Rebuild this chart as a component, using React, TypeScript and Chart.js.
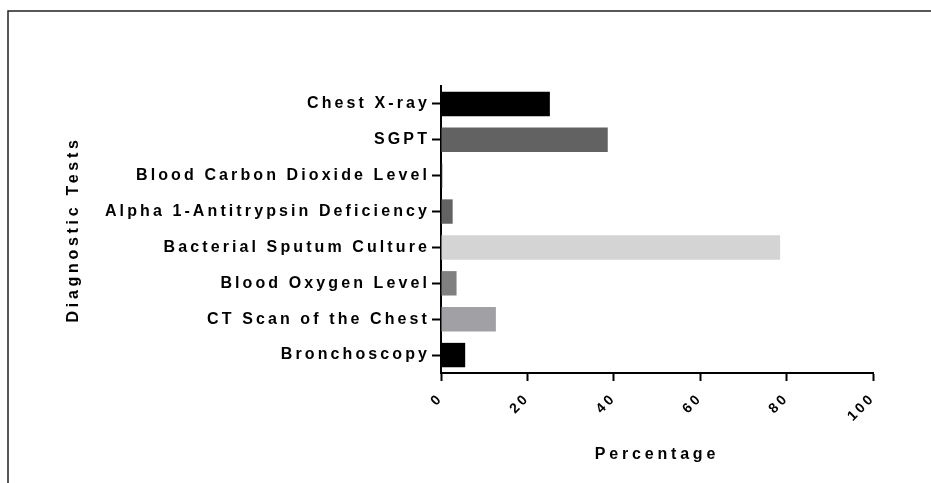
import React, { useEffect, useRef } from "react";
import { Chart, registerables } from "chart.js";
Chart.register(...registerables);

const categories = [
  "Chest X-ray",
  "SGPT",
  "Blood Carbon Dioxide Level",
  "Alpha 1-Antitrypsin Deficiency",
  "Bacterial Sputum Culture",
  "Blood Oxygen Level",
  "CT Scan of the Chest",
  "Bronchoscopy",
];
const percentages = [25.2, 38.6, 0.3, 2.7, 78.5, 3.6, 12.7, 5.6];
const barColors = ["#000000", "#626262", "#3a3a3a", "#636363", "#d4d4d4", "#808080", "#a1a1a5", "#000000"];
const xMin = 0;
const xMax = 100;
const xStep = 20;
const xTitle = "Percentage";
const yTitle = "Diagnostic Tests";

const FONT = "'Liberation Sans', Arial, Helvetica, sans-serif";

function patchSpacing(scale: any, fnName: string, spacing: string) {
  if (!scale || scale["__patched_" + fnName]) return;
  const orig = scale[fnName];
  scale[fnName] = function (...args: any[]) {
    const ctx = this.ctx;
    const prev = ctx.letterSpacing;
    ctx.letterSpacing = spacing;
    const r = orig.apply(this, args);
    ctx.letterSpacing = prev;
    return r;
  };
  scale["__patched_" + fnName] = true;
}

const framePlugin = {
  id: "spacingFrame",
  afterLayout(chart: any) {
    patchSpacing(chart.scales.y, "drawLabels", "3.1px");
    patchSpacing(chart.scales.x, "drawLabels", "3px");
    patchSpacing(chart.scales.y, "drawTitle", "3.7px");
    patchSpacing(chart.scales.x, "drawTitle", "3.8px");
  },
  beforeDraw(chart: any) {
    const ctx = chart.ctx;
    ctx.save();
    ctx.strokeStyle = "#222";
    ctx.lineWidth = 1.5;
    ctx.beginPath();
    ctx.moveTo(8, 483);
    ctx.lineTo(8, 11);
    ctx.lineTo(931, 11);
    ctx.stroke();
    ctx.restore();
  },
};

export default function App() {
  const ref = useRef<HTMLCanvasElement | null>(null);
  useEffect(() => {
    if (!ref.current) return;
    const chart = new Chart(ref.current, {
      type: "bar",
      data: {
        labels: categories,
        datasets: [
          {
            data: percentages,
            backgroundColor: barColors,
            borderWidth: 0,
            barPercentage: 0.68,
            categoryPercentage: 1,
          },
        ],
      },
      options: {
        indexAxis: "y",
        animation: false,
        responsive: false,
        layout: { padding: { left: 55, top: 86, right: 58, bottom: 0 } },
        plugins: { legend: { display: false }, tooltip: { enabled: false } },
        scales: {
          x: {
            type: "linear",
            min: xMin,
            max: xMax,
            ticks: {
              stepSize: xStep,
              autoSkip: false,
              minRotation: 45,
              maxRotation: 45,
              padding: 9,
              color: "#000",
              font: { family: FONT, size: 14, weight: "bold" },
            },
            grid: { drawOnChartArea: false, tickLength: 8, tickWidth: 2, color: "#000" },
            border: { color: "#000", width: 2 },
            title: {
              display: true,
              text: xTitle,
              color: "#000",
              font: { family: FONT, size: 16, weight: "bold" },
              padding: { top: 0, bottom: 19 },
            },
            afterFit: (s: any) => {
              s.height = 110;
            },
          },
          y: {
            type: "category",
            offset: true,
            ticks: {
              autoSkip: false,
              padding: 2,
              color: "#000",
              font: { family: FONT, size: 16, weight: "bold" },
            },
            grid: { offset: false, drawOnChartArea: false, tickLength: 9, tickWidth: 2, color: "#000" },
            border: { color: "#000", width: 2 },
            title: {
              display: true,
              text: yTitle,
              color: "#000",
              font: { family: FONT, size: 16, weight: "bold" },
              padding: { top: 9, bottom: 0 },
            },
            afterFit: (s: any) => {
              s.width = 386;
            },
          },
        },
      },
      plugins: [framePlugin],
    } as any);
    return () => chart.destroy();
  }, []);
  return (
    <div style={{ position: "fixed", left: 0, top: 0, width: 931, height: 483, background: "#fff" }}>
      <canvas ref={ref} width={931} height={483} />
    </div>
  );
}
